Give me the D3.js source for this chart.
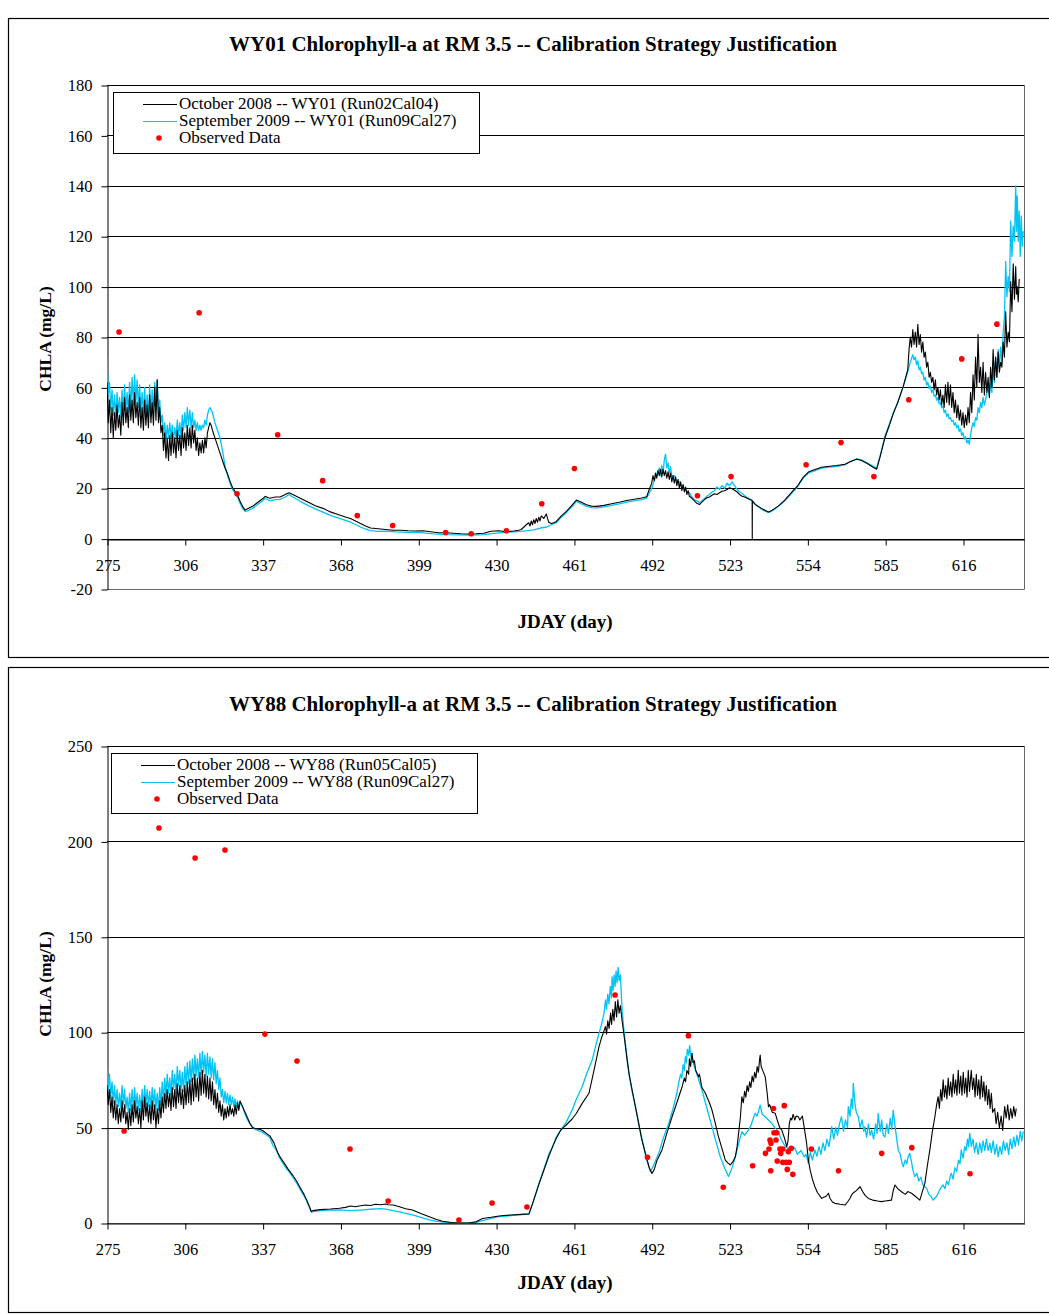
<!DOCTYPE html>
<html><head><meta charset="utf-8">
<script src="https://cdn.jsdelivr.net/npm/d3@7"></script>
<style>
body{margin:0;background:#fff}
svg{display:block}
text{font-family:"Liberation Serif","Times New Roman",serif;fill:#000}
</style>
</head><body>
<svg id="c" width="1049" height="1314"></svg>
<script>
// ---------- shared ----------
const xTicks = [275,306,337,368,399,430,461,492,523,554,585,616];
const xDomain = [275, 640.3];

// ---------- chart 1 : WY01 ----------
const topTitle = "WY01 Chlorophyll-a at RM 3.5 -- Calibration Strategy Justification";
const topSeriesNames = ["October 2008 -- WY01 (Run02Cal04)", "September 2009 -- WY01 (Run09Cal27)", "Observed Data"];
const topYTicks = [-20,0,20,40,60,80,100,120,140,160,180];

const topOct08 = [
[275,62],[275.5,46],[276,55],[276.5,42],[277,52],[277.5,40],[278,50],[278.5,43],[279,53],[279.5,44],[280,49],[280.5,41],[281,54],[281.5,45],[282,56],[282.5,46],[283,52],[283.5,44],[284,57],[284.5,47],[285,55],[285.5,46],[286,58],[286.5,48],[287,54],[287.5,45],[288,56],[288.5,44],[289,52],[289.5,43],[290,55],[290.5,45],[291,53],[291.5,44],[292,57],[292.5,46],[293,54],[293.5,45],[294,60],[294.5,47],[295,63],[295.5,46],[296,52],[296.5,42],[297,45],[297.5,35],[298,42],[298.5,32],[299,40],[299.5,31],[300,41],[300.5,33],[301,42],[301.5,34],[302,40],[302.5,32],[303,43],[303.5,35],[304,41],[304.5,33],[305,44],[305.5,36],[306,42],[306.5,35],[307,45],[307.5,37],[308,44],[308.5,36],[309,45],[309.5,38],[310,43],[310.5,35],[311,40],[311.5,33],[312,38],[312.5,34],[313,39],[313.5,34],[314,40],[314.5,36],[315,42],[315.5,44],[316,46],[316.5,45],[317,43],[318,40],[319,37],[320,34],[321,31],[322,28],
[323,25.8],[324,22.8],[325,20.3],[326,18.8],[327,17.3],[328,14.8],[329,12.8],[330,11.3],[331,11.8],[333,12.8],[335,14.3],[337,15.8],[338,16.8],[339,16.3],[340,16],[342,16.5],[344,16.5],[346,17.5],[347.5,18.2],[349,17.5],[352,16],[355,14.5],[358,13],[361,12],[364,10.6],[367,9.6],[370,8.6],[372,8],[374,7],[376,6],[378,5],[380,4.2],[383,3.9],[386,3.6],[389,3.3],[392,3.3],[395,3.1],[398,3],[401,3.1],[404,2.7],[407,2.3],[410,2.3],[413,2.1],[416,1.9],[419,1.8],[422,1.9],[425,2.1],[428,2.9],[431,3.1],[434,2.7],[437,3],[439,3.3],
[440,3.6],[441,4.5],[442,5.5],[443,6.3],[443.5,5],[444,7],[444.5,5.5],[445,7.5],[445.5,6],[446,8],[446.5,6.5],[447,8.5],[447.5,7],[448,9],[449,8],[450,9.8],[450.5,8],[451,6.5],[452,6],[453,6.3],[454,6.8],[456,9],[458,10.8],[460,13],[462,15.3],[464,14.4],[466,13.4],[468,12.9],[470,12.8],[473,13.2],[476,13.8],[479,14.4],[482,15.1],[485,15.6],[488,16.1],[490,16.6],
[491,19.5],[492,22],[492.5,25],[493,23],[493.5,26],[494,24],[494.5,27],[495,25],[495.5,27.5],[496,24.5],[496.5,27.5],[497,25],[497.5,27],[498,24],[498.5,26.5],[499,23.5],[499.5,26],[500,22.5],[500.5,25],[501,22],[501.5,24.5],[502,21],[502.5,23.5],[503,20],[503.5,22.5],[504,19],[504.5,21.5],[505,18.5],[505.5,20.5],[506,17.5],[506.5,19],[507,16.8],[508,16],[509,15],[510,14],[511,13.5],[512,14.5],[513,15.5],[514,16.2],[515,16.5],[516,17.2],[517,17.8],[518,17.5],[519,18.2],[520,18.8],[521,19],[522,19.5],[523,20.2],[524,19.8],[525,19.2],[526,18.5],[527,17.5],[528,16.8],[529,16.5],[530,16],[531,15.5],[532,15.2],[532.05,0],[532.1,15],[533,13.8],[534,13],[536,11.8],[538.5,10.6],
[540,11.3],[542.5,13],[545,15.3],[547.8,18.4],[550,20.8],[552.4,24.4],[554.4,26.4],[557,27.4],[559.7,28.3],[562,28.6],[565.7,29],[569,29.5],[571,30.5],[573.6,31.5],[575.6,31],[578,29.7],[580.2,28.3],[581.6,27.5],[583,32.5],[584.9,40],[586.5,44.5],[588.2,49.5],[590,54],[592.2,60.4],
[594,67],[594.5,75],[595,80],[595.5,76],[596,83],[596.5,77],[597,82],[597.5,76],[598,85],[598.5,77],[599,81],[599.5,74],[600,78],[600.5,72],[601,74],[601.5,68],[602,70],[602.5,64],[603,66],[603.5,62],[604,64],[604.5,59],[605,63],[605.5,57],[606,60],[606.5,55],[607,59],[607.5,53],[608,57],[608.5,52],[609,61],[609.5,54],[610,62],[610.5,53],[611,61],[611.5,52],[612,58],[612.5,50],[613,55],[613.5,48],[614,53],[614.5,47],[615,51],[615.5,45],[616,50],[616.5,44],[617,49],[617.5,45],[618,52],[618.5,46],[619,58],[619.5,50],[620,65],[620.5,55],[621,72],[621.5,60],[622,81],[622.5,62],[623,68],[623.5,58],[624,70],[624.5,57],[625,66],[625.5,58],[626,64],[626.5,56],[627,68],[627.5,60],[628,75],[628.5,63],[629,72],[629.5,64],[630,74],[630.5,66],[631,70],[631.5,68],[632,78],[632.5,72],[633,90],[633.5,76],[634,82],[634.5,78],[635,102],[635.5,90],[636,109],[636.5,95],[637,108],[637.3,97],[637.6,100],[638,94],[638.4,103]
];

const topSep09 = [
[275,72],[275.5,57],[276,62],[276.5,51],[277,59],[277.5,49],[278,57],[278.5,48],[279,58],[279.5,50],[280,56],[280.5,48],[281,59],[281.5,50],[282,61],[282.5,51],[283,58],[283.5,50],[284,62],[284.5,52],[285,64],[285.5,53],[286,65],[286.5,54],[287,63],[287.5,52],[288,61],[288.5,50],[289,58],[289.5,49],[290,60],[290.5,50],[291,57],[291.5,48],[292,61],[292.5,50],[293,59],[293.5,49],[294,62],[294.5,51],[295,63],[295.5,50],[296,55],[296.5,46],[297,49],[297.5,41],[298,46],[298.5,39],[299,45],[299.5,40],[300,46],[300.5,40],[301,45],[301.5,39],[302,44],[302.5,40],[303,47],[303.5,41],[304,46],[304.5,40],[305,49],[305.5,43],[306,50],[306.5,44],[307,52],[307.5,45],[308,51],[308.5,44],[309,50],[309.5,44],[310,47],[310.5,43],[311,46],[311.5,43],[312,45],[312.5,43],[313,45],[313.5,44],[314,47],[314.5,45],[315,49],[315.5,51],[316,52],[316.5,51],[317,50],[318,46],[319,43],[320,40],[321,35],[322,29],
[323,25],[324,22],[325,19.5],[326,18],[327,16.5],[328,14],[329,12],[330,10.8],[331,11],[333,12],[335,13.5],[337,15],[338,16],[339,15.5],[340,15],[342,15.5],[344,15.5],[346,16.5],[347.5,17.5],[349,16.5],[352,14.8],[355,13.2],[358,11.8],[361,10.5],[364,9.2],[367,8.2],[370,7.2],[372,6.5],[374,5.6],[376,4.6],[378,3.8],[380,3.2],[383,2.9],[386,3],
[390,2.7],[395,2.5],[400,2.4],[405,1.9],[410,1.6],[415,1.5],[420,1.4],[425,1.6],[430,2.2],[435,2.6],[440,2.9],[445,3.5],[448,4.3],[450,4.5],[452,5.5],[454,6.3],[456,8.5],[458,10.3],[460,12.5],[462,14.8],[464,13.8],[466,12.8],[468,12.3],[470,12.2],[473,12.6],[476,13.2],[479,13.8],[482,14.5],[485,15],[488,15.5],[490,16.1],
[491,18],[492,20],[493,23],[494,25.5],[495,28],[495.5,25],[496,29],[496.5,26],[497,31],[497.5,33.5],[498,28],[498.5,30],[499,26],[499.5,28.5],[500,24.7],[501,25],[502,23],[503,22.5],[504,21],[505,20],[506,18.5],[507,18.2],[508,16.5],[509,15.5],[510,15],[511,14.2],[512,15],[513,15.8],[514,16.8],[515,17.5],[516,18.5],[517,19],[518,20.5],[519,19.5],[520,21],[521,20],[522,22],[523,21],[524,22.5],[525,21],[526,19.5],[527,18.5],[528,18],[529,17],[530,16.3],[531,15.8],[532,15],[534,13],[536,11.5],[538.5,10.3],
[540,11],[542.5,12.8],[545,15],[547.8,18.1],[550,20.5],[552.4,24.1],[554.4,26],[557,27],[559.7,28],[562,28.3],[565.7,28.7],[569,29.3],[571,30.5],[573.6,31.7],[575.6,31.2],[578,30],[580.2,28.7],[581.6,28],[583,33],[584.9,40.6],[586.5,45],[588.2,49.8],[590,54],[592.2,60.4],[594.2,67],
[595,70],[596,73],[596.5,71],[597,72],[597.5,69],[598,70.5],[598.5,67],[599,68],[599.5,65.5],[600,66],[600.5,63],[601,64],[601.5,61],[602,62],[602.5,59.5],[603,60.5],[603.5,58],[604,59],[604.5,56.5],[605,57],[605.5,55],[606,56],[606.5,53.5],[607,54],[607.5,52],[608,52.5],[608.5,50],[609,51],[609.5,48.5],[610,49.5],[610.5,47.5],[611,48],[611.5,46.5],[612,47],[612.5,45],[613,46],[613.5,44],[614,45],[614.5,42.5],[615,43.5],[615.5,41],[616,42],[616.5,39.5],[617,40.5],[617.5,38],[618,39],[618.5,37.5],[619,41],[619.5,44],[620,46],[620.5,44.5],[621,48],[621.5,47],[622,52],[622.5,50],[623,54],[623.5,52],[624,56],[624.5,53],[625,55],[625.5,58],[626,60],[626.5,57],[627,62],[627.5,58],[628,68],[628.5,62],[629,72],[629.5,64],[630,75],[630.5,68],[631,76],[631.5,70],[632,82],[632.5,88],[633,110],[633.5,96],[634,104],[634.5,98],[635,126],[635.5,112],[636,124],[636.5,118],[637,140],[637.3,122],[637.6,136],[638,118],[638.4,130],[638.8,112],[639.2,128],[639.6,116],[640,122]
];

const topObserved = [[279.8,82],[311.7,89.6],[326.8,17.8],[343,41.2],[360.9,23],[374.7,9.1],[388.8,5.2],[409.9,2.4],[420.1,1.9],[434.1,3.1],[448.2,13.8],[461.2,27.8],[510.2,17],[523.6,24.6],[553.5,29.3],[567.4,38.1],[580.5,24.6],[594.4,55.1],[615.5,71.3],[629.5,85.1]];

// ---------- chart 2 : WY88 ----------
const botTitle = "WY88 Chlorophyll-a at RM 3.5 -- Calibration Strategy Justification";
const botSeriesNames = ["October 2008 -- WY88 (Run05Cal05)", "September 2009 -- WY88 (Run09Cal27)", "Observed Data"];
const botYTicks = [0,50,100,150,200,250];

const botOct08 = [
[275,72],[275.5,62],[276,70],[276.5,58],[277,66],[277.5,55],[278,64],[278.5,54],[279,62],[279.5,52],[280,60],[280.5,53],[281,64],[281.5,55],[282,62],[282.5,52],[283,58],[283.5,49],[284,60],[284.5,51],[285,62],[285.5,53],[286,64],[286.5,55],[287,61],[287.5,52],[288,60],[288.5,50],[289,64],[289.5,54],[290,66],[290.5,56],[291,63],[291.5,53],[292,62],[292.5,52],[293,64],[293.5,54],[294,62],[294.5,50],[295,60],[295.5,52],[296,64],[296.5,55],[297,66],[297.5,58],[298,68],[298.5,60],[299,70],[299.5,61],[300,68],[300.5,59],[301,71],[301.5,61],[302,70],[302.5,60],[303,73],[303.5,63],[304,72],[304.5,62],[305,70],[305.5,60],[306,72],[306.5,62],[307,74],[307.5,63],[308,75],[308.5,62],[309,76],[309.5,64],[310,78],[310.5,66],[311,76],[311.5,64],[312,79],[312.5,67],[313,80],[313.5,68],[314,78],[314.5,66],[315,77],[315.5,65],[316,76],[316.5,64],[317,74],[317.5,62],[318,70],[318.5,60],[319,68],[319.5,58],[320,64],[320.5,56],[321,62],[321.5,54],[322,60],[322.5,55],[323,61],[323.5,56],[324,62],[324.5,57],[325,60],[325.5,56],[326,62],[326.5,57],[327,63],[327.5,59],[328,64],[329,61],[330,58],[331,55],[332,52],[333,50],
[334,49.5],[336,49],[337,48.5],[338.5,47],[340,45.5],[341.5,42],[343,37],[344,34.5],[345.5,31.5],[347,28.5],[349,25],[350.5,22],[352,18.5],[353.5,15],[354.4,12.5],[355.5,9],[356.4,6],[357,6.5],[360,7],[364,7.3],[367.6,7.7],[370,8.2],[372,8.9],[374,8.5],[376,9],[378,9.4],[380,9.2],[382,9.8],[384,9.6],[386,10],[387,9.6],[389,9.4],[391.5,8.5],[394,7.5],[396.7,6.8],[400,5],[403.4,3.3],[406,2],[408.7,0.9],[412,0.3],[415,0],[419,0],[422,0.6],[424.6,2.4],[428,3],[431.2,3.7],[433,3.9],[436,4.2],[440,4.5],[443.1,4.8],
[445,12],[447.1,20.5],[449,27.5],[451,35],[452.4,39.5],[454,44.5],[455.7,48.5],[458,51.5],[460.3,54.5],[462,57.5],[464.3,62.7],[467,68],[469,80],[471,92.4],[472,97],[473.6,103],[474,99],[474.5,106],[475,102],[475.6,110],[476,104],[476.5,112],[477,106],[477.5,116],[478,108],[478.5,117],[479,110],[479.5,114],[480.2,106],[481,98],[482.2,85.4],[483,78],[484.2,69.7],[485.5,61],[486.8,52.3],[488,44],[489.5,36.5],[491,29],[492.1,26],[493,28],[494,32.5],[496.1,38.3],[498,47],[500.1,55.7],[502,63],[504.1,71.4],[505,76],[505.5,74],[506,80],[506.7,78],[507,86],[507.5,82],[508,89],[508.5,84],[509,85],[509.5,80],[510.7,76.7],[511,78],[512,71],[513.4,68],[514,66],[515,63],[516,59.2],[517,54],[518.6,45.2],[520,39],[521.3,33],[522.3,31.5],[523.3,30.5],[524.3,32],[525.3,34.7],[526,40],[526.6,47],[527.3,55],[527.9,66.2],[528.5,63],[529,69],[529.5,66],[530,72],[530.5,69],[531,74],[531.5,71],[532,77],[532.5,74],[533,79],[533.5,76],[534,82],[534.5,79],[535,86],[535.2,88],[535.6,82],[536.2,80],[537.2,76.7],[538,68],[538.5,61],[539,62],[540,58],[541.2,57.5],[542,54],[543,50],[543.8,48.7],[545,44],[545.8,40],[546.3,43],[546.8,52],[547.3,55],[547.8,54],[548.3,57],[549,54],[549.5,56],[550.4,55.7],[551,54],[552,56],[552.4,53],[553.1,47],[553.7,41.8],[554.4,33],[555.1,27.8],[556,23],[557,19],[558,16],[559.7,12.9],[560.5,13.5],[561.5,14],[562.4,15.6],[563,13],[564,11],[565,10.3],[567,9.8],[569,9.4],[570,11],[571,13],[571.6,14.7],[572.5,16],[573.5,17],[575,19],[576,16.5],[577,14.5],[578.3,12.9],[580,12],[582,11.5],[583.5,11.2],[585,11.5],[587.5,12],[588.2,17],[588.9,19.9],[590,18],[591.5,16.4],[593,15],[594,16.5],[595.5,15.6],[597,14],[598.8,12],[599.5,15],[600.8,20.8],[601.8,30],[602.8,38.3],[603.8,48],[604.8,55.7],[605.5,62],[606.1,66.2],[606.6,60],[607.1,70],[607.6,64],[608.1,75],[608.6,66],[609.1,72],[609.6,65],[610.1,76],[610.6,67],[611.1,74],[611.6,66],[612.1,78],[612.6,68],[613.1,75],[613.6,67],[614.1,80],[614.6,68],[615.1,77],[615.6,67],[616.1,79],[616.6,68],[617.1,76],[617.6,66],[618.1,80],[618.6,69],[619.3,80],[619.8,70],[620.3,76],[620.8,66],[621.3,78],[621.8,67],[622.3,75],[622.8,65],[623.3,77],[623.8,66],[624.3,74],[624.8,64],[625.3,72],[625.8,62],[626.3,70],[626.8,60],[627.3,68],[627.8,58],[628.6,60],[629.2,52],[629.8,58],[630.5,50],[631.2,56],[631.8,48.5],[632.6,61],[633.2,55],[633.8,62],[634.4,54],[635,60],[635.6,55],[636.2,61],[636.8,56],[637.2,60]
];

const botSep09 = [
[275,82],[275.5,70],[276,78],[276.5,66],[277,74],[277.5,63],[278,72],[278.5,62],[279,70],[279.5,61],[280,68],[280.5,60],[281,72],[281.5,62],[282,70],[282.5,60],[283,66],[283.5,58],[284,68],[284.5,59],[285,70],[285.5,60],[286,71],[286.5,61],[287,68],[287.5,59],[288,67],[288.5,58],[289,70],[289.5,61],[290,72],[290.5,62],[291,70],[291.5,61],[292,69],[292.5,60],[293,71],[293.5,61],[294,70],[294.5,60],[295,68],[295.5,59],[296,71],[296.5,62],[297,74],[297.5,64],[298,76],[298.5,66],[299,78],[299.5,68],[300,76],[300.5,67],[301,80],[301.5,70],[302,78],[302.5,68],[303,82],[303.5,72],[304,80],[304.5,70],[305,79],[305.5,69],[306,82],[306.5,72],[307,84],[307.5,73],[308,85],[308.5,74],[309,86],[309.5,75],[310,88],[310.5,77],[311,86],[311.5,76],[312,89],[312.5,78],[313,90],[313.5,79],[314,88],[314.5,77],[315,89],[315.5,78],[316,87],[316.5,76],[317,86],[317.5,75],[318,84],[318.5,73],[319,80],[319.5,70],[320,76],[320.5,66],[321,70],[321.5,63],[322,69],[322.5,63],[323,68],[323.5,62],[324,67],[324.5,62],[325,66],[325.5,61],[326,65],[326.5,61],[327,64],[327.5,60],[328,63],[329,61],[330,57],[331,54],[332,52],[333,50],
[334,49],[336,48],[337,47.5],[338,46.5],[339.8,45],[341,41],[342.5,38],[343.8,34],[345,31.5],[346.4,28.7],[348,26],[349,24],[350.5,21],[352,17.5],[353.5,14],[354.4,12],[355.5,8.5],[356.4,5.6],[357,6],[360,6.5],[364,6.8],[367.6,6.9],[372,6.5],[376,6.8],[380,7.2],[384,7.5],[386,7.3],[388,6.8],[391.5,5.8],[394,5],[396.7,4.2],[400,3],[403.4,1.6],[406,1],[408.7,0.5],[412,0.2],[415,0],[419,0],[422,0.3],[424.6,1.2],[428,2.4],[431.2,3.3],[435,3.8],[439,4.3],[443.1,4.7],
[445,12],[447.1,20.8],[449,28],[451,36],[452.4,40],[454,45],[455.7,48.7],[458,53],[460.3,59.2],[462,65],[464.3,71.4],[466,78],[468.3,85.4],[469.5,92],[471,99.4],[472,104],[473,110],[473.6,116.9],[474,112],[474.5,120],[475,115],[475.5,124],[476,118],[476.2,129],[476.6,122],[477,130],[477.4,124],[477.8,132],[478.2,126],[478.6,134],[479,127],[479.5,130],[480.2,111.6],[481,100],[482.9,78.5],[484,70],[485.5,61],[486.8,52],[488.2,43.5],[490,33],[491.5,26.9],[493,31],[494.8,36.5],[496.5,44],[498.8,52.3],[500.5,60],[502,68],[502.7,73.2],[503.5,78],[504,76],[504.5,83],[505,80],[505.4,87.2],[505.8,84],[506.2,91],[506.7,88],[507.1,93],[507.6,87],[508,89],[508.5,84],[509.4,80.2],[510.5,76],[512,69.7],[514,60],[516,50.5],[517.5,43],[519.3,34.7],[521,29],[522.6,24.3],[524,29],[525.3,34.7],[526.5,41],[527.9,47.9],[529,46],[530.5,48.7],[531.5,51],[532.5,55],[533.2,57.5],[534,56],[535.2,61.8],[536,57],[537.2,55.7],[538.5,54],[539.8,52.3],[541,50],[542.5,47.9],[543.5,44],[545.2,40],[546.5,39],[547.9,38.3],[549,39.5],[550,36],[551.5,38],[552.7,34.7],[553.5,36],[554.4,31.3],[555.2,37],[556,33],[557,38.3],[557.8,35],[558.6,40],[559.4,36],[560.2,42],[561,38],[561.8,44],[562.6,40],[563.4,47],[563.7,50.5],[564.5,44],[565.3,50],[566,46],[566.8,52],[567.6,55.7],[568.4,48],[569.2,54],[570,50],[570.3,61],[571,56],[571.5,65],[572,60],[572.3,73.2],[573,62],[573.5,58],[574.3,55.7],[575,50],[575.8,54],[576.5,48],[576.9,50.5],[577.6,45],[578.3,52],[579,46],[579.6,48.7],[580.4,44],[581.2,52],[581.8,47],[582.2,57.5],[583,48],[583.6,54],[584.2,46],[584.9,45.2],[585.6,52],[586.3,47],[587,55],[587.6,49],[588.2,59.2],[589,50],[589.6,44],[590.2,38.3],[591,36],[591.6,32],[592.2,29.5],[593,33],[593.6,31],[594.2,35],[594.8,36.5],[595.5,32],[596,28],[596.8,24.3],[597.6,26],[598.4,22],[599.2,24],[600,20],[600.8,19],[601.6,18],[602.4,15],[603.2,14],[604.1,12],[604.8,13],[605.5,14],[606.1,15.6],[607,18],[608,20],[608.8,18],[609.5,22],[610.2,20],[611,25],[611.4,26],[612,23],[612.8,29],[613.5,27],[614.2,33],[614.8,31],[615.3,38.3],[616,34],[616.7,40],[617.2,38],[617.8,44],[618.2,40],[618.7,47],[619.3,40],[620,44],[620.6,37],[621.3,42],[622,36],[622.7,42],[623.4,37],[624,43],[624.7,38],[625.3,44],[626,38],[626.7,41.8],[627.3,37],[628,43],[628.7,36],[629.4,41],[630,34.7],[630.7,40],[631.4,36],[632.1,43],[632.8,38],[633.5,42],[634.2,36],[634.8,44],[635.5,39],[636.2,45],[636.8,40],[637.5,46],[638.1,41],[638.8,48],[639.4,43],[640,48]
];

const botObserved = [[281.8,48.2],[295.7,207],[310.1,191.3],[322,195.5],[337.9,99],[350.7,84.9],[371.8,38.8],[387,11.5],[415.2,1.6],[428.4,10.5],[442.3,8.4],[477.4,119.5],[490.3,34.4],[506.6,98.2],[520.5,18.7],[532.2,30],[537.3,36.5],[538.7,38.8],[539.1,43.5],[539.4,27.4],[539.5,41.8],[540.5,60],[540.7,47.3],[541.5,43.5],[541.8,47.3],[542,32.5],[543.1,38.8],[543.4,36.5],[544.2,38.8],[544.2,31.8],[544.8,61.5],[545.5,31.8],[546,28.1],[546.4,37.4],[546.8,31.8],[547.6,39.2],[548.2,25.5],[555.6,38.8],[566.4,27.4],[583.6,36.5],[595.6,39.5],[618.8,25.8]];

// ---------- drawing ----------
const svg = d3.select("#c");
const BLACK = "#000000", CYAN = "#00c4f4", RED = "#ff0000";

function drawChart(o){
  const g = svg.append("g");
  g.append("rect").attr("x",o.frame[0]+0.5).attr("y",o.frame[1]+0.5)
    .attr("width",o.frame[2]).attr("height",o.frame[3])
    .attr("fill","#fff").attr("stroke","#000").attr("stroke-width",1.2);

  const x = d3.scaleLinear().domain(xDomain).range([o.left,o.right]);
  const y = d3.scaleLinear().domain(o.yDomain).range([o.bottom,o.top]);

  g.append("g").selectAll("line").data(o.yTicks.filter(t=>t>o.yDomain[0])).join("line")
    .attr("x1",o.left).attr("x2",o.right)
    .attr("y1",d=>Math.round(y(d))+0.5).attr("y2",d=>Math.round(y(d))+0.5)
    .attr("stroke","#000").attr("stroke-width",1);
  g.append("path").attr("d",`M${o.left},${o.bottom+0.5}H${o.right+0.5}V${o.top}`)
    .attr("fill","none").attr("stroke","#666").attr("stroke-width",1);

  const ya = d3.axisLeft(y).tickValues(o.yTicks).tickSizeInner(6).tickSizeOuter(0).tickPadding(9).tickFormat(d=>String(d));
  const yg = g.append("g").attr("transform",`translate(${o.left+0.5},0.5)`).call(ya);
  yg.selectAll("text").style("font-size","16.5px").style("font-family",'"Liberation Serif",serif');
  yg.selectAll("line,path").attr("stroke","#000");

  const xa = d3.axisBottom(x).tickValues(xTicks).tickSizeInner(6).tickSizeOuter(0).tickPadding(14).tickFormat(d=>String(d));
  const xg = g.append("g").attr("transform",`translate(0.5,${Math.round(y(0))+0.5})`).call(xa);
  xg.selectAll("text").style("font-size","16.5px").style("font-family",'"Liberation Serif",serif');
  xg.selectAll("line,path").attr("stroke","#000");

  const cid = "clip"+o.id;
  svg.append("clipPath").attr("id",cid).append("rect")
    .attr("x",o.left).attr("y",o.top).attr("width",o.right-o.left+1).attr("height",o.bottom-o.top);

  const line = d3.line().x(d=>x(d[0])).y(d=>y(d[1]));
  const lg = g.append("g").attr("clip-path",`url(#${cid})`);
  lg.append("path").datum(o.sep).attr("d",line).attr("fill","none").attr("stroke",CYAN).attr("stroke-width",1.3).attr("stroke-linejoin","round");
  lg.append("path").datum(o.oct).attr("d",line).attr("fill","none").attr("stroke",BLACK).attr("stroke-width",1.1).attr("stroke-linejoin","round");
  lg.append("g").selectAll("circle").data(o.obs).join("circle")
    .attr("cx",d=>x(d[0])).attr("cy",d=>y(d[1])).attr("r",2.8).attr("fill",RED);

  g.append("text").attr("x",533).attr("y",o.titleY).attr("text-anchor","middle")
    .style("font-size","21px").style("font-weight","bold").text(o.title);
  g.append("text").attr("x",565).attr("y",o.xTitleY).attr("text-anchor","middle")
    .style("font-size","19px").style("font-weight","bold").text("JDAY (day)");
  g.append("text").attr("transform",`translate(51,${o.yTitleY}) rotate(-90)`).attr("text-anchor","middle")
    .style("font-size","17.5px").style("font-weight","bold").text("CHLA (mg/L)");

  const L = o.legend;
  const lgd = g.append("g").attr("transform",`translate(${L[0]},${L[1]})`);
  lgd.append("rect").attr("x",0.5).attr("y",0.5).attr("width",L[2]).attr("height",L[3])
    .attr("fill","#fff").attr("stroke","#000").attr("stroke-width",1);
  const cols = [BLACK, CYAN, RED];
  o.names.forEach((nm,i)=>{
    const yy = 12 + i*17;
    if(i<2){
      lgd.append("line").attr("x1",30).attr("x2",64).attr("y1",yy+0.5).attr("y2",yy+0.5)
        .attr("stroke",cols[i]).attr("stroke-width",1.2);
    } else {
      lgd.append("circle").attr("cx",46).attr("cy",yy).attr("r",2.8).attr("fill",RED);
    }
    lgd.append("text").attr("x",66).attr("y",yy+5).style("font-size","17px").text(nm);
  });
}

drawChart({id:1, frame:[8,18,1050,639], left:107, right:1024, top:85, bottom:589,
  yDomain:[-20,180], yTicks:topYTicks, oct:topOct08, sep:topSep09, obs:topObserved,
  title:topTitle, titleY:51, xTitleY:628, yTitleY:339, legend:[113,92,366,61], names:topSeriesNames});

drawChart({id:2, frame:[8,667,1050,645], left:107, right:1024, top:746, bottom:1223,
  yDomain:[0,250], yTicks:botYTicks, oct:botOct08, sep:botSep09, obs:botObserved,
  title:botTitle, titleY:711, xTitleY:1289, yTitleY:984, legend:[111,753,366,60], names:botSeriesNames});
</script>
</body></html>
